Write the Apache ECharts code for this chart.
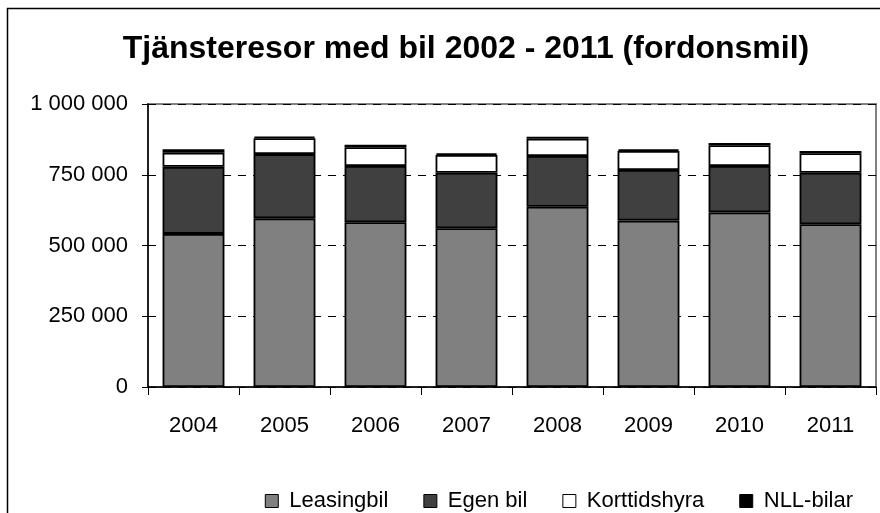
<!DOCTYPE html>
<html>
<head>
<meta charset="utf-8">
<script src="https://cdn.jsdelivr.net/npm/echarts@6/dist/echarts.min.js"></script>
<style>
  html, body { margin: 0; padding: 0; background: #fff; }
  #chart { width: 880px; height: 513px; }
</style>
</head>
<body>
<div id="chart"></div>
<script>
const years = ['2004', '2005', '2006', '2007', '2008', '2009', '2010', '2011']
const leasingbil = [541000, 596000, 582000, 561000, 637000, 588000, 617000, 575000]
const egenBil = [237000, 227000, 199000, 196000, 179000, 179000, 164000, 182000]
const korttidshyra = [50000, 56000, 66000, 63000, 61000, 67000, 73000, 69000]
const nllBilar = [12000, 6000, 9000, 6000, 7000, 6000, 8000, 8000]
const yTicks = [0, 250000, 500000, 750000, 1000000]

const font = "'Liberation Sans', Arial, sans-serif"

const mChart = echarts.init(document.getElementById('chart'), null, { renderer: 'canvas' })

function thousands(v) {
  return String(v).replace(/\B(?=(\d{3})+(?!\d))/g, ' ')
}

function barSeries(name, data, color) {
  return {
    name,
    type: 'bar',
    stack: 'total',
    data,
    barCategoryGap: '32%',
    itemStyle: {
      color,
      borderColor: '#000',
      borderWidth: 1.8
    }
  }
}

const option = {
  animation: false,
  backgroundColor: '#fff',
  title: {
    text: 'Tjänsteresor med bil 2002 - 2011 (fordonsmil)',
    left: 461,
    textAlign: 'center',
    top: 28,
    textStyle: {
      fontFamily: font,
      fontWeight: 'bold',
      fontSize: 32,
      color: '#000'
    }
  },
  graphic: [
    {
      // ram runt hela diagrammet
      type: 'rect',
      shape: { x: 7.5, y: 8.5, width: 1000, height: 1000 },
      style: { fill: null, stroke: '#000', lineWidth: 1.5 },
      silent: true
    }
  ],
  legend: {
    right: 22,
    top: 485,
    itemWidth: 13,
    itemHeight: 13,
    itemGap: 35,
    icon: 'rect',
    textStyle: {
      fontFamily: font,
      fontSize: 22,
      color: '#000',
      padding: [0, 0, 0, 6]
    },
    itemStyle: { borderColor: '#000', borderWidth: 1 },
    data: ['Leasingbil', 'Egen bil', 'Korttidshyra', 'NLL-bilar']
  },
  grid: {
    left: 148,
    right: 4,
    top: 104,
    bottom: 126,
    show: true,
    borderColor: '#808080',
    borderWidth: 2,
    backgroundColor: 'transparent'
  },
  xAxis: {
    type: 'category',
    data: years,
    axisLine: { lineStyle: { color: '#000', width: 1.5 } },
    axisTick: { show: true, length: 8, alignWithLabel: false, lineStyle: { color: '#000' } },
    axisLabel: {
      margin: 28,
      fontFamily: font,
      fontSize: 22,
      color: '#000'
    }
  },
  yAxis: {
    type: 'value',
    min: yTicks[0],
    max: yTicks[yTicks.length - 1],
    interval: yTicks[1] - yTicks[0],
    axisLine: { show: true, lineStyle: { color: '#000', width: 1.5 } },
    axisTick: { show: true, length: 6, lineStyle: { color: '#000' } },
    axisLabel: {
      margin: 20,
      fontFamily: font,
      fontSize: 22,
      color: '#000',
      formatter: v => thousands(v)
    },
    splitLine: {
      show: true,
      lineStyle: { color: '#000', width: 1, type: [8, 7] }
    }
  },
  series: [
    barSeries('Leasingbil', leasingbil, '#808080'),
    barSeries('Egen bil', egenBil, '#404040'),
    barSeries('Korttidshyra', korttidshyra, '#ffffff'),
    barSeries('NLL-bilar', nllBilar, '#000000')
  ]
}
mChart.setOption(option)
</script>
</body>
</html>
